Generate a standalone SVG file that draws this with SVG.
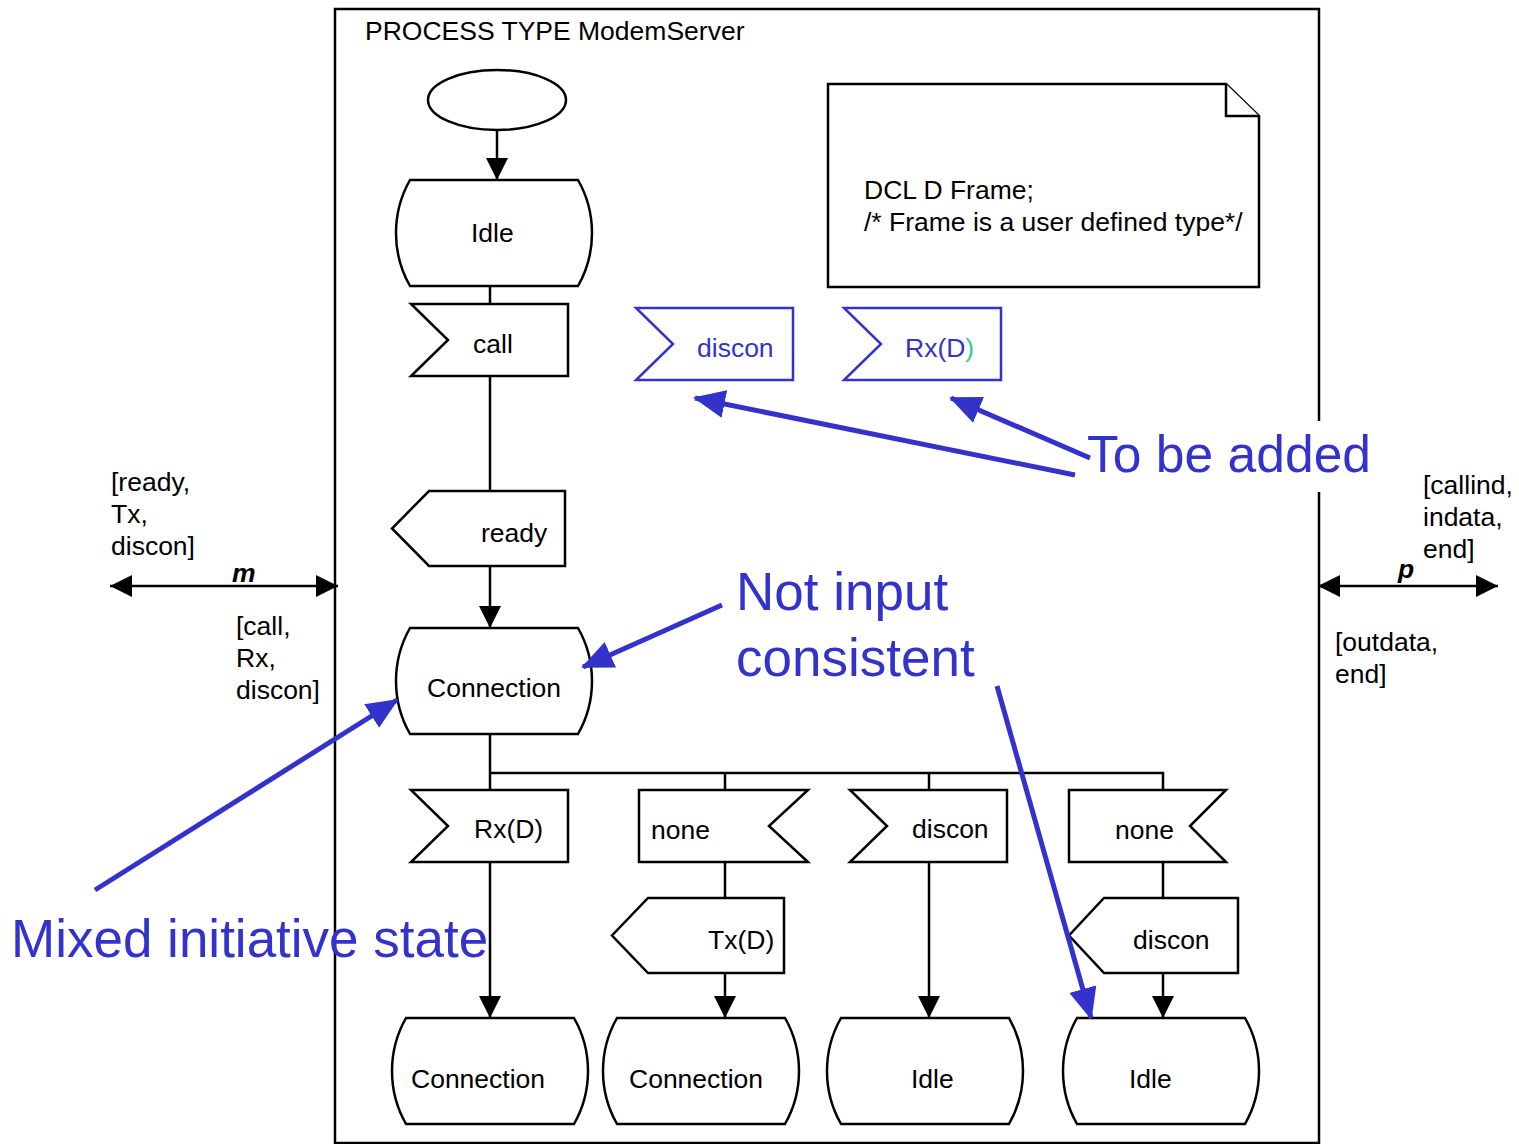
<svg xmlns="http://www.w3.org/2000/svg" width="1519" height="1144" viewBox="0 0 1519 1144">
  <style>
    .sym { fill: #fff; stroke: #000; stroke-width: 2.5; stroke-linejoin: miter; }
    .blue { fill: #fff; stroke: #3333cc; stroke-width: 2.5; }
    .flow { fill: none; stroke: #000; stroke-width: 2.5; }
    .note { fill: none; stroke: #3333cc; stroke-width: 5; }
    text { font-family: "Liberation Sans", Arial, sans-serif; font-size: 26.5px; fill: #000; }
    .ann { font-size: 53px; fill: #3333cc; }
    .chan { font-weight: bold; font-style: italic; }
  </style>
  <defs>
    <marker id="ah" viewBox="0 0 22 22" refX="22" refY="11" markerWidth="22" markerHeight="22" markerUnits="userSpaceOnUse" orient="auto-start-reverse">
      <path d="M0,0 L22,11 L0,22 Z" fill="#000"/>
    </marker>
    <marker id="bh" viewBox="0 0 32 28" refX="30" refY="14" markerWidth="32" markerHeight="28" markerUnits="userSpaceOnUse" orient="auto">
      <path d="M0,0 L32,14 L0,28 Z" fill="#3333cc"/>
    </marker>
    <path id="state" d="M14,0 H182 C190,14 196,32 196,53 C196,74 190,92 182,106 H14 C6,92 0,74 0,53 C0,32 6,14 14,0 Z"/>
    <path id="input" d="M0,0 H157 V72 H0 L37,36 Z"/>
  </defs>

  <rect width="1519" height="1144" fill="#fff"/>

  <!-- process frame -->
  <g id="frame">
    <rect x="335" y="9" width="984" height="1134" fill="none" stroke="#000" stroke-width="2.5"/>
    <text x="365" y="40">PROCESS TYPE ModemServer</text>
  </g>

  <!-- connectors -->
  <g id="connectors">
    <line class="flow" x1="497" y1="130" x2="497" y2="180" marker-end="url(#ah)"/>
    <line class="flow" x1="490" y1="287" x2="490" y2="304"/>
    <line class="flow" x1="490" y1="376" x2="490" y2="491"/>
    <line class="flow" x1="490" y1="566" x2="490" y2="628" marker-end="url(#ah)"/>
    <line class="flow" x1="490" y1="735" x2="490" y2="790"/>
    <polyline class="flow" points="490,773 1163,773 1163,790"/>
    <line class="flow" x1="725" y1="773" x2="725" y2="790"/>
    <line class="flow" x1="929" y1="773" x2="929" y2="790"/>
    <line class="flow" x1="490" y1="862" x2="490" y2="1018" marker-end="url(#ah)"/>
    <line class="flow" x1="725" y1="862" x2="725" y2="898"/>
    <line class="flow" x1="725" y1="973" x2="725" y2="1018" marker-end="url(#ah)"/>
    <line class="flow" x1="929" y1="862" x2="929" y2="1018" marker-end="url(#ah)"/>
    <line class="flow" x1="1163" y1="862" x2="1163" y2="898"/>
    <line class="flow" x1="1163" y1="973" x2="1163" y2="1018" marker-end="url(#ah)"/>
  </g>

  <!-- signal routes -->
  <g id="route-m">
    <line class="flow" x1="110" y1="586" x2="338" y2="586" marker-start="url(#ah)" marker-end="url(#ah)"/>
    <text class="chan" x="232" y="582">m</text>
    <text x="111" y="491">[ready,</text>
    <text x="111" y="523">Tx,</text>
    <text x="111" y="555">discon]</text>
    <text x="236" y="635">[call,</text>
    <text x="236" y="667">Rx,</text>
    <text x="236" y="699">discon]</text>
  </g>
  <g id="route-p">
    <line class="flow" x1="1318" y1="586" x2="1498" y2="586" marker-start="url(#ah)" marker-end="url(#ah)"/>
    <text class="chan" x="1398" y="578">p</text>
    <text x="1423" y="494">[callind,</text>
    <text x="1423" y="526">indata,</text>
    <text x="1423" y="558">end]</text>
    <text x="1335" y="651">[outdata,</text>
    <text x="1335" y="683">end]</text>
  </g>

  <!-- start symbol -->
  <g id="start">
    <ellipse class="sym" cx="497" cy="100" rx="69" ry="30"/>
  </g>

  <g id="state-idle">
    <use href="#state" class="sym" x="396" y="180"/>
    <text x="471" y="242">Idle</text>
  </g>
  <g id="input-call">
    <use href="#input" class="sym" x="411" y="304"/>
    <text x="473" y="353">call</text>
  </g>
  <g id="output-ready">
    <path class="sym" d="M429,491 H565 V566 H429 L392,528.5 Z"/>
    <text x="481" y="542">ready</text>
  </g>
  <g id="state-connection">
    <use href="#state" class="sym" x="396" y="628"/>
    <text x="427" y="697">Connection</text>
  </g>

  <g id="input-rx">
    <use href="#input" class="sym" x="411" y="790"/>
    <text x="474" y="838">Rx(D)</text>
  </g>
  <g id="none-1">
    <path class="sym" d="M639,790 H808 L769,826 L808,862 H639 Z"/>
    <text x="651" y="839">none</text>
  </g>
  <g id="input-discon">
    <use href="#input" class="sym" x="850" y="790"/>
    <text x="912" y="838">discon</text>
  </g>
  <g id="none-2">
    <path class="sym" d="M1069,790 H1226 L1190,826 L1226,862 H1069 Z"/>
    <text x="1115" y="839">none</text>
  </g>
  <g id="output-tx">
    <path class="sym" d="M648,898 H784 V973 H648 L612,935.5 Z"/>
    <text x="708" y="949">Tx(D)</text>
  </g>
  <g id="output-discon">
    <path class="sym" d="M1104,898 H1238 V973 H1104 L1069,935.5 Z"/>
    <text x="1133" y="949">discon</text>
  </g>

  <g id="state-connection-2">
    <use href="#state" class="sym" x="392" y="1018"/>
    <text x="411" y="1088">Connection</text>
  </g>
  <g id="state-connection-3">
    <use href="#state" class="sym" x="603" y="1018"/>
    <text x="629" y="1088">Connection</text>
  </g>
  <g id="state-idle-2">
    <use href="#state" class="sym" x="827" y="1018"/>
    <text x="911" y="1088">Idle</text>
  </g>
  <g id="state-idle-3">
    <use href="#state" class="sym" x="1063" y="1018"/>
    <text x="1129" y="1088">Idle</text>
  </g>

  <!-- declaration text symbol -->
  <g id="declaration">
    <path class="sym" d="M828,84 H1226 L1259,116 V287 H828 Z"/>
    <path class="sym" d="M1226,84 V116 H1259"/>
    <text x="864" y="199">DCL D Frame;</text>
    <text x="864" y="231">/* Frame is a user defined type*/</text>
  </g>

  <!-- inputs still to be added -->
  <g id="new-input-discon">
    <use href="#input" class="blue" x="636" y="308"/>
    <text x="697" y="357" style="fill:#3333cc">discon</text>
  </g>
  <g id="new-input-rx">
    <use href="#input" class="blue" x="844" y="308"/>
    <text x="905" y="357" style="fill:#3333cc">Rx(D<tspan style="fill:#33cc99">)</tspan></text>
  </g>

  <!-- remarks -->
  <g id="remarks">
    <rect x="1085" y="421" width="290" height="71" fill="#fff"/>
    <line class="note" x1="1075" y1="475" x2="695" y2="398" marker-end="url(#bh)"/>
    <line class="note" x1="1090" y1="458" x2="951" y2="398" marker-end="url(#bh)"/>
    <text class="ann" x="1087" y="472" style="font-size:51.6px">To be added</text>
    <line class="note" x1="722" y1="605" x2="583" y2="667" marker-end="url(#bh)"/>
    <text class="ann" x="736" y="610">Not input</text>
    <text class="ann" x="736" y="676">consistent</text>
    <line class="note" x1="997" y1="686" x2="1091" y2="1018" marker-end="url(#bh)"/>
    <line class="note" x1="95" y1="890" x2="397" y2="700" marker-end="url(#bh)"/>
    <text class="ann" x="11" y="957">Mixed initiative state</text>
  </g>
</svg>
